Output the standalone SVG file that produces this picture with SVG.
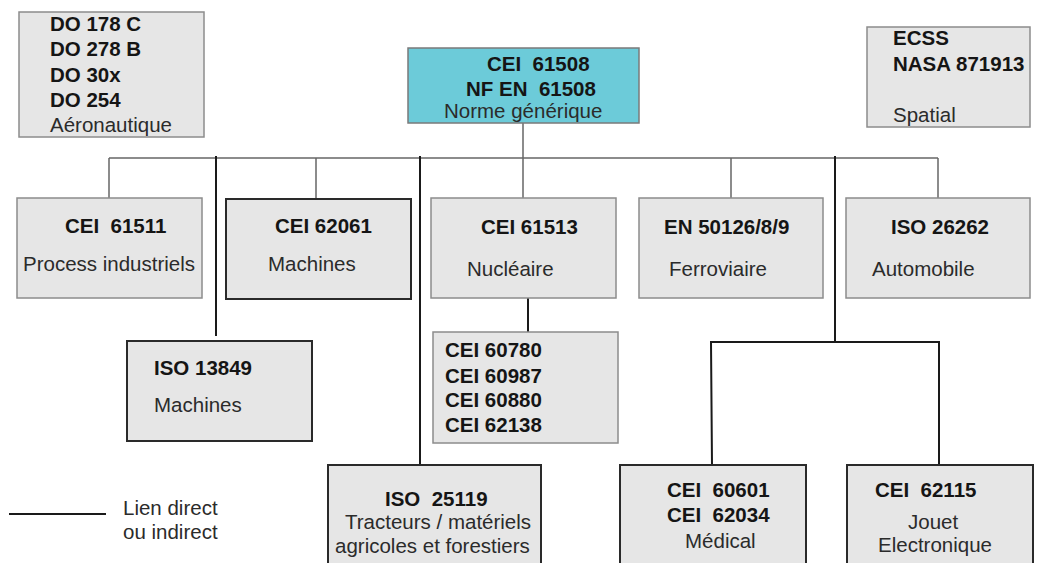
<svg xmlns="http://www.w3.org/2000/svg" width="1038" height="563" viewBox="0 0 1038 563">
<style>
.bx{fill:#e6e6e6;stroke:#8c8c8c;stroke-width:1.5}
.bd{fill:#e6e6e6;stroke:#2a2a2a;stroke-width:2}
.cy{fill:#6ccbd9;stroke:#7a7a7a;stroke-width:1.5}
text{font-family:"Liberation Sans",Arial,sans-serif;font-size:20.5px}
.b{font-weight:bold;fill:#151515}
.r{fill:#2b2b2b}
.ln{fill:none;stroke:#666;stroke-width:1.5}
.dk{fill:none;stroke:#1a1a1a;stroke-width:2}
</style>
<g id="connectors">
<polyline class="ln" points="523,123 523,158"/>
<line class="ln" x1="109" y1="158" x2="938" y2="158"/>
<line class="ln" x1="109" y1="158" x2="109" y2="198"/>
<line class="ln" x1="316" y1="158" x2="316" y2="199"/>
<line class="ln" x1="523" y1="158" x2="523" y2="198"/>
<line class="ln" x1="731" y1="158" x2="731" y2="198"/>
<line class="ln" x1="938" y1="158" x2="938" y2="198"/>
<line class="dk" x1="216" y1="156" x2="216" y2="336"/>
<line class="dk" x1="420" y1="156" x2="420" y2="465"/>
<line class="dk" x1="835" y1="156" x2="835" y2="342"/>
<line class="dk" x1="528" y1="298" x2="528" y2="332"/>
<polyline class="dk" points="712,465 711,342 939,342 939,465"/>
</g>
<g id="aeronautique">
<rect class="bx" x="19" y="12" width="185" height="125"/>
<text class="b" x="50" y="31">DO 178 C</text>
<text class="b" x="50" y="56">DO 278 B</text>
<text class="b" x="50" y="82">DO 30x</text>
<text class="b" x="50" y="107">DO 254</text>
<text class="r" x="50" y="132">Aéronautique</text>
</g>
<g id="cei61508">
<rect class="cy" x="408" y="48" width="231" height="75"/>
<text class="b" x="487" y="71" xml:space="preserve">CEI  61508</text>
<text class="b" x="466" y="96" xml:space="preserve">NF EN  61508</text>
<text class="r" x="444" y="118">Norme générique</text>
</g>
<g id="spatial">
<rect class="bx" x="867" y="27" width="163" height="100"/>
<text class="b" x="893" y="45">ECSS</text>
<text class="b" x="893" y="71">NASA 871913</text>
<text class="r" x="893" y="122">Spatial</text>
</g>
<g id="cei61511">
<rect class="bx" x="17" y="198" width="185" height="100"/>
<text class="b" x="65" y="233" xml:space="preserve">CEI  61511</text>
<text class="r" x="23" y="271">Process industriels</text>
</g>
<g id="cei62061">
<rect class="bd" x="226" y="199" width="185" height="100"/>
<text class="b" x="275" y="233">CEI 62061</text>
<text class="r" x="268" y="271">Machines</text>
</g>
<g id="cei61513">
<rect class="bx" x="431" y="198" width="185" height="100"/>
<text class="b" x="481" y="234">CEI 61513</text>
<text class="r" x="467" y="276">Nucléaire</text>
</g>
<g id="en50126">
<rect class="bx" x="639" y="198" width="184" height="100"/>
<text class="b" x="664" y="234">EN 50126/8/9</text>
<text class="r" x="669" y="276">Ferroviaire</text>
</g>
<g id="iso26262">
<rect class="bx" x="846" y="198" width="184" height="100"/>
<text class="b" x="891" y="234">ISO 26262</text>
<text class="r" x="872" y="276">Automobile</text>
</g>
<g id="iso13849">
<rect class="bd" x="127" y="341" width="185" height="100"/>
<text class="b" x="154" y="375">ISO 13849</text>
<text class="r" x="154" y="412">Machines</text>
</g>
<g id="cei60780">
<rect class="bx" x="433" y="332" width="185" height="111"/>
<text class="b" x="445" y="357">CEI 60780</text>
<text class="b" x="445" y="383">CEI 60987</text>
<text class="b" x="445" y="407">CEI 60880</text>
<text class="b" x="445" y="432">CEI 62138</text>
</g>
<g id="iso25119">
<rect class="bd" x="328" y="465" width="213" height="110"/>
<text class="b" x="385" y="506" xml:space="preserve">ISO  25119</text>
<text class="r" x="345" y="529">Tracteurs / matériels</text>
<text class="r" x="335" y="553">agricoles et forestiers</text>
</g>
<g id="cei60601">
<rect class="bd" x="620" y="465" width="186" height="110"/>
<text class="b" x="667" y="497" xml:space="preserve">CEI  60601</text>
<text class="b" x="667" y="522" xml:space="preserve">CEI  62034</text>
<text class="r" x="685" y="548">Médical</text>
</g>
<g id="cei62115">
<rect class="bd" x="847" y="465" width="186" height="110"/>
<text class="b" x="875" y="497" xml:space="preserve">CEI  62115</text>
<text class="r" x="908" y="529">Jouet</text>
<text class="r" x="878" y="552">Electronique</text>
</g>
<g id="legend">
<line class="dk" x1="9" y1="514" x2="106" y2="514"/>
<text class="r" x="123" y="515">Lien direct</text>
<text class="r" x="123" y="539">ou indirect</text>
</g>
</svg>
